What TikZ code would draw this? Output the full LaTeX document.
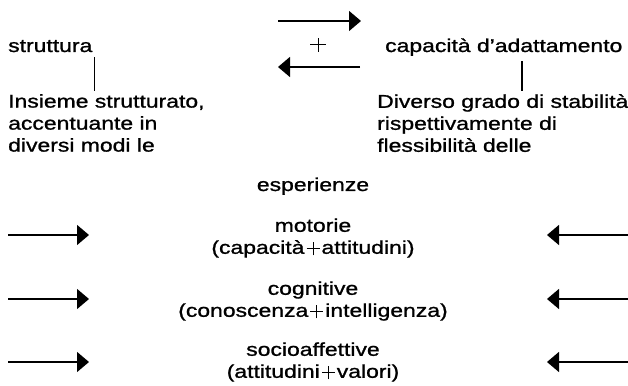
\documentclass[tikz,border=0pt]{standalone}
\usepackage{fontspec}
\setmainfont[FakeStretch=1.24,FakeBold=1.1]{Liberation Sans}
\usetikzlibrary{arrows.meta}

% segno + sottile, fatto di due filetti
\newcommand{\piu}{\kern2pt\rlap{\rule[4.6pt]{13pt}{0.9pt}}\kern6.05pt\rule[-1.5pt]{0.9pt}{13pt}\kern6.05pt\kern2pt}
\newcommand{\piugrande}{\rlap{\rule[6.5pt]{16pt}{1pt}}\kern7.5pt\rule{1pt}{14pt}\kern7.5pt}

\tikzset{
  testo/.style={font=\fontsize{18.5}{22}\selectfont, inner sep=0pt},
  freccia/.style={line width=1.4pt, -{Triangle[length=12pt,width=20pt]}},
  trattino/.style={line width=1.4pt}
}

\begin{document}
\begin{tikzpicture}[x=1pt,y=1pt]
\useasboundingbox (0,0) rectangle (628,385);

% parte alta
\node[testo, anchor=base west] (struttura) at (8,333) {struttura};
\node[testo, anchor=base west] (capacita) at (385,333) {capacità d’adattamento};
\node[testo] (piu) at (318,340) {\piugrande};

% frecce tra i due termini
\coordinate (fa1) at (278,364);
\coordinate (fa2) at (361,364);
\coordinate (fb1) at (360,318);
\coordinate (fb2) at (278,318);
\draw[freccia] (fa1) -- (fa2);
\draw[freccia] (fb1) -- (fb2);

% blocchi di testo
\node[testo, anchor=north west, align=left] (insieme) at (8,291)
  {Insieme strutturato,\\accentuante in\\diversi modi le};
\node[testo, anchor=north west, align=left] (diverso) at (377,291)
  {Diverso grado di stabilità\\rispettivamente di\\flessibilità delle};

% trattini verticali
\coordinate (xcap) at (522,0);
\draw[trattino] ([xshift=2pt,yshift=-5pt]struttura.south east) -- ([xshift=2pt,yshift=3pt]struttura.south east |- insieme.north);
\draw[trattino] ([yshift=-5pt]capacita.south -| xcap) -- ([yshift=3pt]diverso.north -| xcap);

% esperienze
\node[testo, anchor=base] (esperienze) at (313,194) {esperienze};

\node[testo, align=center] (motorie) at (313,147)
  {motorie\\(capacità\piu attitudini)};
\node[testo, align=center] (cognitive) at (313,84)
  {cognitive\\(conoscenza\piu intelligenza)};
\node[testo, align=center] (socio) at (313,23)
  {socioaffettive\\(attitudini\piu valori)};

% frecce laterali
\foreach \riga/\y in {motorie/150, cognitive/86, socio/23}{
  \coordinate (sx\riga) at (8,\y);
  \coordinate (sp\riga) at (89,\y);
  \coordinate (dx\riga) at (628,\y);
  \coordinate (dp\riga) at (547,\y);
  \draw[freccia] (sx\riga) -- (sp\riga);
  \draw[freccia] (dx\riga) -- (dp\riga);
}

\end{tikzpicture}
\end{document}
